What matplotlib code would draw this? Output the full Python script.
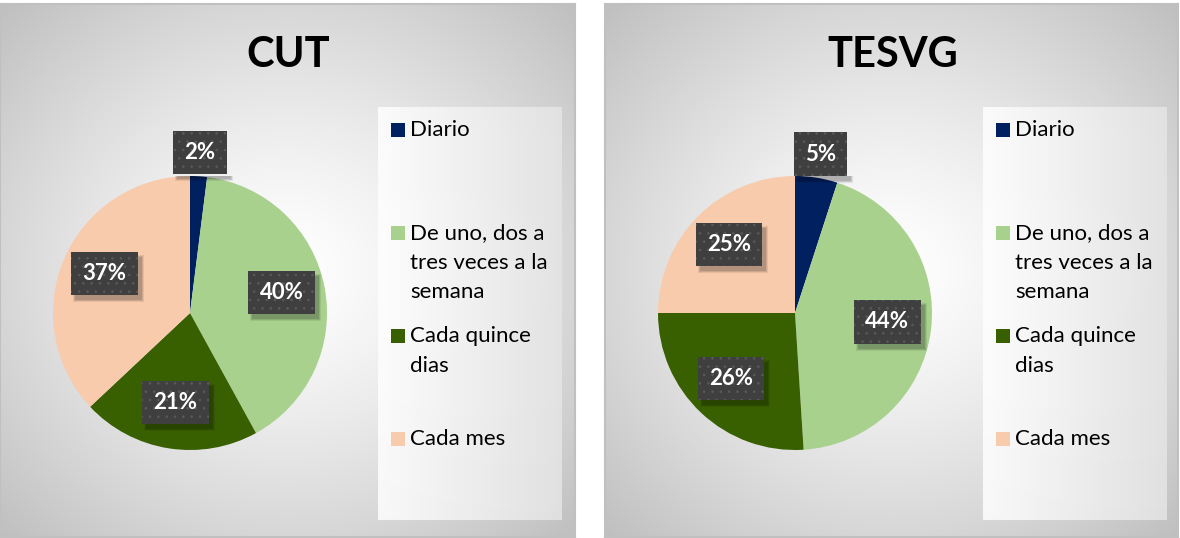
import numpy as np
import matplotlib
matplotlib.use("Agg")
import matplotlib.pyplot as plt
from matplotlib.patches import Rectangle

plt.rcParams['font.family'] = ['Lato', 'DejaVu Sans']
plt.rcParams['hatch.linewidth'] = 0.6

# ---- data ----
categories = ["Diario", "De uno, dos a\ntres veces a la\nsemana", "Cada quince\ndias", "Cada mes"]
titles = ["CUT", "TESVG"]
cut_values = [2, 40, 21, 37]
tesvg_values = [5, 44, 26, 25]
colors = ["#002060", "#A9D18E", "#386000", "#F8CBAD"]

W, H = 1180, 538
fig = plt.figure(figsize=(W / 100, H / 100), dpi=100)
fig.patch.set_facecolor("white")

label_texts = []


def fx(px):
    return px / W


def fy(py):
    return 1 - py / H


def panel(x0, x1, y0, y1, title, values):
    # background radial gradient
    bg = fig.add_axes([fx(x0), fy(y1), fx(x1 - x0), (y1 - y0) / H], zorder=0)
    nx, ny = 300, 280
    xx, yy = np.meshgrid(np.linspace(-1, 1, nx), np.linspace(-1, 1, ny))
    rr = np.sqrt(xx ** 2 + yy ** 2) / np.sqrt(2)
    g = 1.0 - 0.25 * rr ** 1.3
    img = np.dstack([g, g, g])
    bg.imshow(img, extent=[0, 1, 0, 1], aspect="auto", interpolation="bilinear")
    bg.set_xlim(0, 1)
    bg.set_ylim(0, 1)
    bg.set_xticks([])
    bg.set_yticks([])
    for s in bg.spines.values():
        s.set_color("#c0c0c0")
        s.set_linewidth(1.5)

    # title
    fig.text(fx(x0 + 288), fy(55), title, ha="center", va="center",
             fontsize=30, fontweight="bold", color="black", zorder=5)

    # legend box
    lx0, lx1, ly0, ly1 = x0 + 378, x0 + 562, 107, 520
    lb = fig.add_axes([fx(lx0), fy(ly1), fx(lx1 - lx0), (ly1 - ly0) / H], zorder=1)
    grad = np.linspace(1.0, 0.90, 200)[None, :]
    gimg = np.dstack([grad, grad, grad])
    lb.imshow(gimg, extent=[0, 1, 0, 1], aspect="auto", alpha=0.85)
    lb.set_xlim(0, 1)
    lb.set_ylim(0, 1)
    lb.axis("off")

    step = 103
    for i, (lab, col) in enumerate(zip(categories, colors)):
        ty = 130 + i * step
        fig.patches.append(Rectangle((fx(x0 + 391), fy(ty + 7)), fx(14), 14 / H,
                                     transform=fig.transFigure, facecolor=col,
                                     edgecolor="none", zorder=6))
        fig.text(fx(x0 + 410), fy(ty - 10), lab, ha="left", va="top",
                 fontsize=16, color="black", linespacing=1.6, zorder=6)

    # pie
    cx, cy, r = x0 + 190, 313, 137
    ax = fig.add_axes([fx(cx - r), fy(cy + r), fx(2 * r), 2 * r / H], zorder=3)
    ax.set_facecolor("none")
    wedges, _ = ax.pie(values, colors=colors, startangle=90, counterclock=False,
                       radius=1, wedgeprops=dict(linewidth=0))
    ax.set_xlim(-1, 1)
    ax.set_ylim(-1, 1)
    ax.set_aspect("auto")
    ax.axis("off")

    total = sum(values)
    for w, v in zip(wedges, values):
        ang = np.deg2rad((w.theta1 + w.theta2) / 2)
        outside = v / total < 0.1
        d = 1.175 if outside else 0.68
        tx, ty = d * np.cos(ang), d * np.sin(ang) + (0 if outside else 0.02)
        txt = f"{round(100 * v / total)}%"
        t = ax.text(tx, ty, txt, ha="center", va="center", fontsize=16,
                    fontweight="bold", color="white", zorder=5,
                    bbox=dict(boxstyle="square,pad=0.5", facecolor="#3f3f3f",
                              edgecolor="#5a5a5a", linewidth=0, hatch=".."))
        label_texts.append((ax, t))


panel(0, 575, 4, 537, titles[0], cut_values)
panel(605, 1178, 4, 537, titles[1], tesvg_values)

# soft drop shadows behind the data-label boxes
fig.canvas.draw()
for ax, t in label_texts:
    bb = t.get_bbox_patch().get_window_extent()
    for k, a in [(0, 0.12), (1, 0.10), (2, 0.08)]:
        ax.add_patch(Rectangle((bb.x0 + 4 - k, bb.y0 - 5 - k), bb.width + 2 * k,
                               bb.height + 2 * k, transform=None,
                               facecolor="black", alpha=a, edgecolor="none",
                               zorder=4.5))

fig.savefig("out.png", dpi=100)
